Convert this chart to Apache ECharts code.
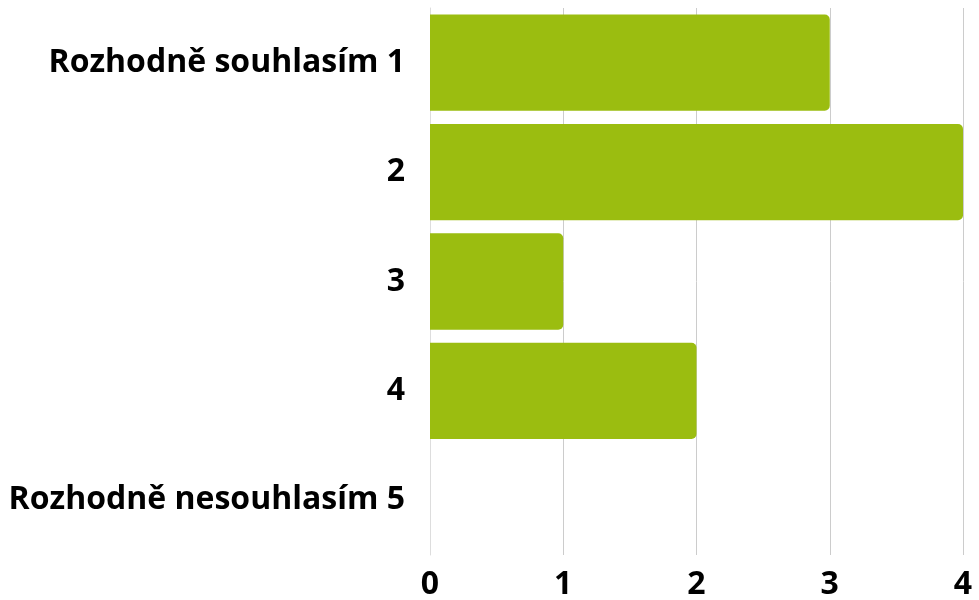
<!DOCTYPE html>
<html>
<head>
<meta charset="utf-8">
<script src="https://cdn.jsdelivr.net/npm/echarts@6/dist/echarts.min.js"></script>
<style>
  html, body { margin: 0; padding: 0; background: #fff; }
  #chart { width: 979px; height: 600px; }
</style>
</head>
<body>
<div id="chart"></div>
<script>
  var categories = ['Rozhodně souhlasím 1', '2', '3', '4', 'Rozhodně nesouhlasím 5'];
  var counts = [3, 4, 1, 2, 0];
  var xTicks = [0, 1, 2, 3, 4];

  var chart = echarts.init(document.getElementById('chart'));
  var font = '"Open Sans", "Noto Sans", sans-serif';

  var option = {
    animation: false,
    grid: { left: 430, right: 16, top: 8, bottom: 45, containLabel: false, outerBoundsMode: 'none' },
    xAxis: {
      type: 'value',
      min: xTicks[0],
      max: xTicks[xTicks.length - 1],
      interval: 1,
      axisLine: { show: false },
      axisTick: { show: false },
      splitLine: { show: true, lineStyle: { color: '#cccccc', width: 1 } },
      axisLabel: {
        color: '#000',
        fontFamily: font,
        fontWeight: 'bold',
        fontSize: 32,
        margin: 14
      }
    },
    yAxis: {
      type: 'category',
      inverse: true,
      data: categories,
      axisLine: { show: true, lineStyle: { color: '#dddddd' } },
      axisTick: { show: false },
      axisLabel: {
        color: '#000',
        fontFamily: font,
        fontWeight: 'bold',
        fontSize: 32,
        margin: 25,
        padding: [10, 0, 0, 0]
      }
    },
    series: [{
      type: 'bar',
      data: counts,
      barCategoryGap: '12%',
      itemStyle: { color: '#9bbd10', borderRadius: [0, 5, 5, 0] }
    }]
  };

  chart.setOption(option);
</script>
</body>
</html>
